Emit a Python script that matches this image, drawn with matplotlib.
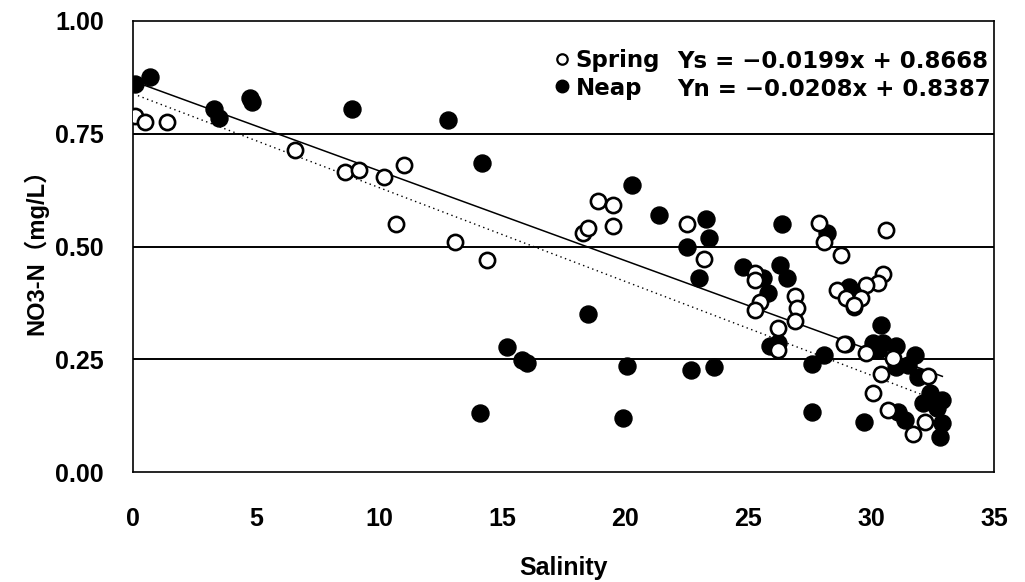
import matplotlib
matplotlib.use("Agg")
import matplotlib.pyplot as plt
from matplotlib.lines import Line2D
import numpy as np

plt.rcParams['font.family'] = ['Liberation Sans', 'Noto Sans CJK JP', 'DejaVu Sans']
plt.rcParams['font.weight'] = 'bold'

# Spring tide samples (open circles)
spring_sal = [0.1, 0.5, 1.4, 6.6, 8.6, 9.2, 10.2, 11.0, 10.7, 13.1, 14.4,
              18.3, 18.5, 18.9, 19.5, 19.5, 22.5, 23.2, 25.3, 25.3, 25.5, 25.3,
              26.9, 27.0, 26.9, 26.2, 26.2, 27.9, 28.1, 28.8, 29.0, 28.6, 29.3,
              29.0, 30.5, 30.3, 29.8, 29.6, 29.3, 30.6, 28.9, 29.8, 30.9, 30.4,
              32.3, 30.1, 30.7, 32.2, 31.7]
spring_no3 = [0.79, 0.775, 0.775, 0.715, 0.665, 0.67, 0.655, 0.68, 0.55, 0.51, 0.47,
              0.53, 0.54, 0.60, 0.593, 0.545, 0.55, 0.473, 0.442, 0.425, 0.376, 0.36,
              0.39, 0.363, 0.334, 0.319, 0.27, 0.553, 0.51, 0.482, 0.283, 0.403, 0.365,
              0.385, 0.44, 0.42, 0.414, 0.385, 0.37, 0.537, 0.283, 0.263, 0.252, 0.217,
              0.212, 0.175, 0.137, 0.11, 0.084]

# Neap tide samples (filled circles)
neap_sal = [0.1, 0.7, 3.3, 3.5, 4.75, 4.85, 8.9, 12.8, 14.2, 15.2, 15.8, 16.0,
            14.1, 20.3, 21.4, 23.3, 23.4, 22.5, 23.0, 18.5, 24.8, 20.1, 22.7, 23.6,
            19.9, 26.4, 28.2, 25.6, 26.3, 26.6, 25.8, 25.9, 26.2, 27.6, 28.1, 27.6,
            29.1, 29.4, 30.4, 30.1, 30.5, 31.0, 30.3, 31.8, 31.5, 31.0, 31.9, 32.4,
            32.9, 31.1, 31.4, 29.7, 32.8, 32.9, 32.7, 32.1]
neap_no3 = [0.86, 0.875, 0.805, 0.785, 0.83, 0.82, 0.805, 0.78, 0.685, 0.277, 0.248, 0.242,
            0.13, 0.637, 0.57, 0.562, 0.518, 0.50, 0.43, 0.35, 0.455, 0.235, 0.226, 0.232,
            0.12, 0.55, 0.53, 0.43, 0.458, 0.431, 0.396, 0.28, 0.285, 0.24, 0.26, 0.133,
            0.41, 0.396, 0.327, 0.285, 0.285, 0.28, 0.27, 0.26, 0.237, 0.232, 0.21, 0.175,
            0.16, 0.133, 0.115, 0.11, 0.077, 0.108, 0.141, 0.152]

spring_fit = (-0.0199, 0.8668)
neap_fit = (-0.0208, 0.8387)
spring_line_x = [0.3, 32.9]
neap_line_x = [0.2, 32.3]

x_ticks = [0, 5, 10, 15, 20, 25, 30, 35]
y_ticks = [0.00, 0.25, 0.50, 0.75, 1.00]

fig = plt.figure(figsize=(10.25, 5.82), dpi=100)
ax = fig.add_axes([133/1025, 1-472/582, (994-133)/1025, (472-21)/582])

for yv in [0.25, 0.5, 0.75]:
    ax.axhline(yv, color='black', lw=1.4, zorder=1)

xs = np.array(spring_line_x)
ax.plot(xs, spring_fit[0]*xs + spring_fit[1], color='black', lw=1.1, zorder=2)
xn = np.array(neap_line_x)
ax.plot(xn, neap_fit[0]*xn + neap_fit[1], color='black', lw=1.0, ls=(0, (1, 2.5)), zorder=2)

ax.scatter(neap_sal, neap_no3, s=150, facecolor='black', edgecolor='black', lw=1, zorder=3)
ax.scatter(spring_sal, spring_no3, s=120, facecolor='white', edgecolor='black', lw=1.9, zorder=4)

ax.set_xlim(0, 35)
ax.set_ylim(0, 1.0)
ax.set_xticks(x_ticks)
ax.set_xticklabels([str(v) for v in x_ticks])
ax.set_yticks(y_ticks)
ax.set_yticklabels([f"{v:.2f}" for v in y_ticks])
ax.tick_params(axis='x', length=0, pad=25, labelsize=18)
ax.tick_params(axis='y', length=0, pad=21, labelsize=18)
for s in ax.spines.values():
    s.set_color('black')
    s.set_linewidth(1.2)

ax.set_xlabel('Salinity', fontsize=18, fontweight='bold', labelpad=18)
ax.set_ylabel('NO3-N\uff08mg/L\uff09', fontsize=17, fontweight='bold', labelpad=5)

leg_font = {'family': 'DejaVu Sans', 'weight': 'bold', 'size': 16.5}
handles = [Line2D([], [], ls='none', marker='o', ms=7.5, mfc='white', mec='black', mew=1.6),
           Line2D([], [], ls='none', marker='o', ms=9, mfc='black', mec='black')]
leg = ax.legend(handles, ['Spring', 'Neap'], loc='center left', bbox_to_anchor=(0.485, 0.882),
                frameon=False, prop=leg_font, handletextpad=0.1, handlelength=1.0,
                labelspacing=0.2, borderaxespad=0, borderpad=0)
ax.text(0.632, 0.911, 'Ys = \u22120.0199x + 0.8668', transform=ax.transAxes,
        fontdict=leg_font, va='center', ha='left')
ax.text(0.632, 0.849, 'Yn = \u22120.0208x + 0.8387', transform=ax.transAxes,
        fontdict=leg_font, va='center', ha='left')

fig.savefig('out.png', dpi=100)
